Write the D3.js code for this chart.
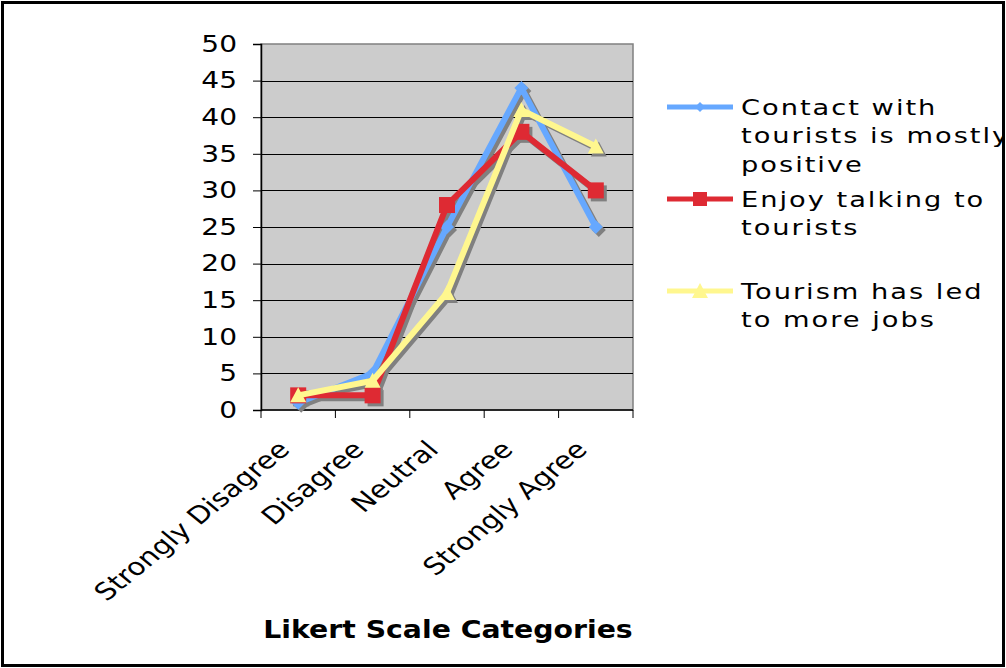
<!DOCTYPE html>
<html>
<head>
<meta charset="utf-8">
<script src="https://cdn.jsdelivr.net/npm/d3@7"></script>
<style>
  body { margin: 0; background: #fff; }
  svg text { font-family: "DejaVu Sans", Verdana, sans-serif; }
</style>
</head>
<body>
<div id="chart"></div>
<script>
var categories = ['Strongly Disagree', 'Disagree', 'Neutral', 'Agree', 'Strongly Agree'];
var contactValues = [1, 5, 25, 44, 25];
var enjoyValues = [2, 2, 28, 38, 30];
var jobsValues = [2, 4, 16, 41, 36];
var yTicks = [0, 5, 10, 15, 20, 25, 30, 35, 40, 45, 50];
var seriesNames = [
  ['Contact with', 'tourists is mostly', 'positive'],
  ['Enjoy talking to', 'tourists'],
  ['Tourism has led', 'to more jobs']
];

var w = 1006, h = 668,
    plotLeft = 261, plotRight = 633, plotTop = 44, plotBottom = 410,
    stretch = 1.22; // the original picture is widened a little

var series = [
  { values: contactValues, color: '#66a8ff', shape: 'diamond', name: seriesNames[0] },
  { values: enjoyValues, color: '#de2a33', shape: 'square', name: seriesNames[1] },
  { values: jobsValues, color: '#fff78f', shape: 'triangle', name: seriesNames[2] }
];

var svg = d3.select('#chart').append('svg')
  .attr('width', w)
  .attr('height', h);

// outer frame
svg.append('rect')
  .attr('x', 2.5).attr('y', 2.5)
  .attr('width', w - 5).attr('height', h - 5)
  .attr('fill', '#fff')
  .attr('stroke', '#000')
  .attr('stroke-width', 3);

var x = d3.scaleBand().domain(categories).range([plotLeft, plotRight]);
var y = d3.scaleLinear().domain([0, 50]).range([plotBottom, plotTop]);

// plot background
svg.append('rect')
  .attr('x', plotLeft).attr('y', plotTop)
  .attr('width', plotRight - plotLeft).attr('height', plotBottom - plotTop)
  .attr('fill', '#cccccc')
  .attr('stroke', '#808080')
  .attr('stroke-width', 1.5);

// gridlines
svg.selectAll('line.grid').data(yTicks.slice(1, -1)).enter()
  .append('line')
  .attr('class', 'grid')
  .attr('x1', plotLeft).attr('x2', plotRight)
  .attr('y1', function(d){ return Math.round(y(d)) + 0.5; })
  .attr('y2', function(d){ return Math.round(y(d)) + 0.5; })
  .style('stroke', '#000')
  .style('stroke-width', 1);

// y axis
var yAxis = svg.append('g')
  .attr('transform', 'translate(' + plotLeft + ',0)')
  .call(d3.axisLeft(y).tickValues(yTicks).tickSize(8));
yAxis.select('.domain').attr('stroke', '#000').attr('stroke-width', 1.5);
yAxis.selectAll('.tick line').attr('stroke', '#000');
yAxis.selectAll('.tick text')
  .attr('x', 0)
  .attr('transform', 'translate(-24,0) scale(' + stretch + ',1)')
  .attr('font-size', 23)
  .attr('fill', '#000')
  .attr('font-family', '"DejaVu Sans", Verdana, sans-serif');

// x axis with ticks between categories
var xAxis = svg.append('g')
  .attr('transform', 'translate(0,' + plotBottom + ')');
xAxis.append('line')
  .attr('x1', plotLeft).attr('x2', plotRight)
  .attr('y1', 0).attr('y2', 0)
  .style('stroke', '#000').style('stroke-width', 1.5);
var edges = categories.map(function(c){ return x(c); }).concat([plotRight]);
xAxis.selectAll('line.xt').data(edges).enter()
  .append('line')
  .attr('class', 'xt')
  .attr('x1', function(d){ return d; }).attr('x2', function(d){ return d; })
  .attr('y1', 0).attr('y2', 8)
  .style('stroke', '#000').style('stroke-width', 1);
xAxis.selectAll('text.xl').data(categories).enter()
  .append('text')
  .attr('class', 'xl')
  .attr('transform', function(d){
    return 'translate(' + (x(d) + x.bandwidth() / 2 - 7) + ',41) scale(' + stretch + ',1) rotate(-45)';
  })
  .attr('text-anchor', 'end')
  .attr('font-size', 24)
  .text(function(d){ return d; });

// axis title
svg.append('text')
  .attr('transform', 'translate(448,638) scale(1.18,1)')
  .attr('text-anchor', 'middle')
  .attr('font-size', 24)
  .attr('font-weight', 'bold')
  .text('Likert Scale Categories');

var line = d3.line()
  .x(function(d, i){ return x(categories[i]) + x.bandwidth() / 2; })
  .y(function(d){ return y(d); });

function marker(g, shape, size) {
  if (shape === 'diamond') {
    return g.append('path').attr('d', 'M0,' + -size + 'L' + size + ',0L0,' + size + 'L' + -size + ',0Z');
  } else if (shape === 'square') {
    return g.append('rect').attr('x', -size).attr('y', -size).attr('width', 2 * size).attr('height', 2 * size);
  }
  return g.append('path').attr('d', 'M0,' + (-size - 1) + 'L' + (size + 1) + ',' + size + 'L' + (-size - 1) + ',' + size + 'Z');
}

var sizes = { diamond: 7, square: 8, triangle: 7 };

// shadows
series.forEach(function(s){
  var g = svg.append('g').attr('transform', 'translate(3,3)');
  g.append('path')
    .datum(s.values)
    .attr('d', line)
    .attr('fill', 'none')
    .attr('stroke', '#808080')
    .attr('stroke-width', 6)
    .attr('stroke-linejoin', 'round');
  s.values.forEach(function(v, i){
    var mg = g.append('g').attr('transform', 'translate(' + (x(categories[i]) + x.bandwidth() / 2) + ',' + y(v) + ')');
    marker(mg, s.shape, sizes[s.shape]).attr('fill', '#808080');
  });
});

// series
series.forEach(function(s){
  svg.append('path')
    .datum(s.values)
    .attr('d', line)
    .attr('fill', 'none')
    .attr('stroke', s.color)
    .attr('stroke-width', 6)
    .attr('stroke-linejoin', 'round');
  s.values.forEach(function(v, i){
    var mg = svg.append('g').attr('transform', 'translate(' + (x(categories[i]) + x.bandwidth() / 2) + ',' + y(v) + ')');
    marker(mg, s.shape, sizes[s.shape]).attr('fill', s.color);
  });
});

// legend
var legendY = [107, 199, 291];
var clip = svg.append('clipPath').attr('id', 'legclip');
clip.append('rect').attr('x', 640).attr('y', 0).attr('width', 362).attr('height', h);
var legend = svg.append('g').attr('clip-path', 'url(#legclip)');
series.forEach(function(s, k){
  var ly = legendY[k];
  legend.append('line')
    .attr('x1', 667).attr('x2', 733)
    .attr('y1', ly).attr('y2', ly)
    .attr('stroke', s.color)
    .attr('stroke-width', 5);
  var mg = legend.append('g').attr('transform', 'translate(700,' + ly + ')');
  marker(mg, s.shape, s.shape === 'diamond' ? 5 : 7).attr('fill', s.color);
  s.name.forEach(function(t, j){
    legend.append('text')
      .attr('transform', 'translate(741,' + (ly + j * 28.5) + ') scale(1.24,1)')
      .attr('dy', '0.35em')
      .attr('font-size', 22)
      .attr('letter-spacing', 1.6)
      .text(t);
  });
});
</script>
</body>
</html>
